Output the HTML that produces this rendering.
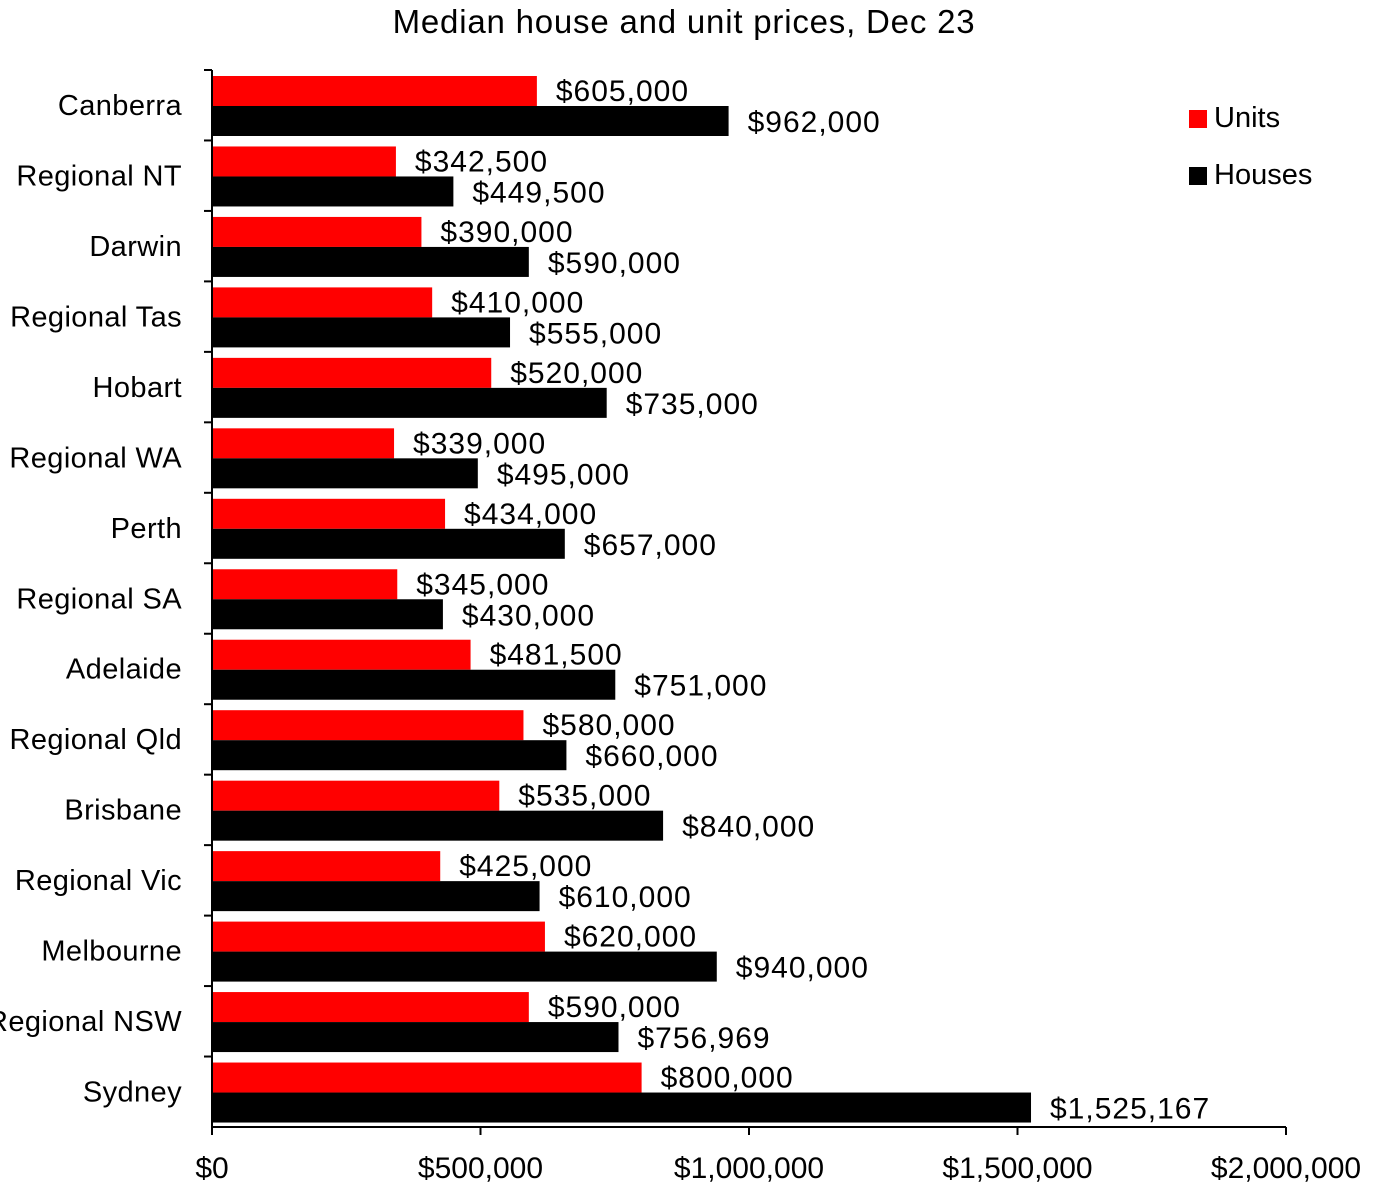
<!DOCTYPE html>
<html><head><meta charset="utf-8"><style>
html,body{margin:0;padding:0;background:#fff;}
svg text{font-family:"Liberation Sans",sans-serif;fill:#000;}
</style></head><body>
<svg id="chart" width="1375" height="1189" xmlns="http://www.w3.org/2000/svg">
<text x="684" y="33" font-size="33" letter-spacing="0.8" text-anchor="middle">Median house and unit prices, Dec 23</text>
<g id="plot"></g>
<g>
<rect x="1189" y="110" width="18" height="18" fill="#ff0000"/>
<text x="1214" y="127" font-size="29">Units</text>
<rect x="1189" y="167" width="18" height="18" fill="#000"/>
<text x="1214" y="184" font-size="29">Houses</text>
</g>
</svg>
<script>
const categories=["Canberra","Regional NT","Darwin","Regional Tas","Hobart","Regional WA","Perth","Regional SA","Adelaide","Regional Qld","Brisbane","Regional Vic","Melbourne","Regional NSW","Sydney"];
const units=[605000,342500,390000,410000,520000,339000,434000,345000,481500,580000,535000,425000,620000,590000,800000];
const houses=[962000,449500,590000,555000,735000,495000,657000,430000,751000,660000,840000,610000,940000,756969,1525167];
const ticks=[0,500000,1000000,1500000,2000000];
const tickLabels=["$0","$500,000","$1,000,000","$1,500,000","$2,000,000"];

const NS="http://www.w3.org/2000/svg";
const g=document.getElementById("plot");
const X0=212,X1=1286,Y0=70,Y1=1127;
const band=(Y1-Y0)/categories.length;
const x=v=>X0+v/2000000*(X1-X0);
const fmt=v=>"$"+v.toLocaleString("en-US");
function mk(tag,attrs){const e=document.createElementNS(NS,tag);for(const k in attrs)e.setAttribute(k,attrs[k]);g.appendChild(e);return e;}
categories.forEach((c,i)=>{
  const top=Y0+i*band;
  let r=mk("rect",{x:X0,y:top+6,width:x(units[i])-X0,height:30,fill:"#ff0000"});
  
  
  r=mk("rect",{x:X0,y:top+36,width:x(houses[i])-X0,height:30,fill:"#000"});
  
  
  let t=mk("text",{x:x(units[i])+19,y:top+31,"font-size":30,"letter-spacing":1});t.textContent=fmt(units[i]);
  
  
  t=mk("text",{x:x(houses[i])+19,y:top+62,"font-size":30,"letter-spacing":1});t.textContent=fmt(houses[i]);
  
  
  t=mk("text",{x:182,y:top+45,"font-size":29,"letter-spacing":0.4,"text-anchor":"end"});t.textContent=c;
  
  
  const l=mk("line",{x1:204,x2:X0,y1:top,y2:top,stroke:"#000","stroke-width":2});
  
  
});
ticks.forEach((v,i)=>{
  const l=mk("line",{x1:x(v),x2:x(v),y1:Y1,y2:Y1+8,stroke:"#000","stroke-width":2});
  
  
  const t=mk("text",{x:x(v),y:1178,"font-size":30,"text-anchor":"middle"});t.textContent=tickLabels[i];
  
  
});
let a=mk("line",{x1:X0,x2:X0,y1:Y0,y2:Y1,stroke:"#000","stroke-width":2});


a=mk("line",{x1:X0,x2:X1,y1:Y1,y2:Y1,stroke:"#000","stroke-width":2});


</script>
</body></html>
